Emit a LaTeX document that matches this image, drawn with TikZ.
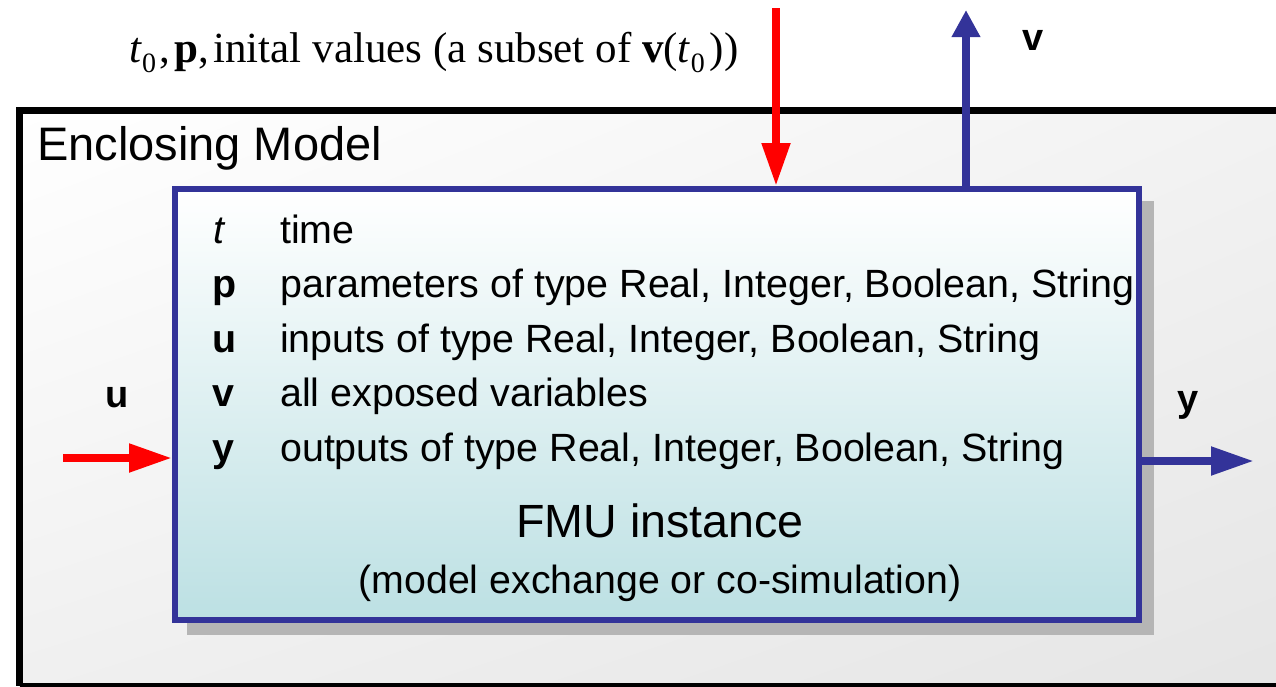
\documentclass[tikz,border=0pt]{standalone}
\usepackage{fontspec}
\setmainfont{Liberation Sans}
\newfontfamily\timesf{Liberation Serif}
\usetikzlibrary{arrows.meta,shadings}
\definecolor{fmublue}{RGB}{51,51,153}
\definecolor{fmucyan}{RGB}{188,224,227}
\definecolor{shadowgray}{RGB}{181,181,181}
\definecolor{arrowred}{RGB}{255,0,0}
\newcommand{\subzero}{\raisebox{-0.24em}{\fontsize{28}{32}\selectfont 0}}
\tikzset{
  fmubox/.style={draw=fmublue, line width=6pt, top color=white, bottom color=fmucyan, inner sep=0pt},
  redarrow/.style={draw=arrowred, line width=8pt, -{Triangle[length=43pt,width=27pt]}},
  bluearrow/.style={draw=fmublue, line width=8pt, -{Triangle[length=43pt,width=27pt]}},
  bluearrowshort/.style={draw=fmublue, line width=8pt, -{Triangle[length=27pt,width=27pt]}},
  rowlabel/.style={anchor=base west, inner sep=0pt, font=\fontsize{39.4}{47}\selectfont},
  rowtext/.style={anchor=base west, inner sep=0pt, font=\fontsize{39.4}{47}\selectfont},
  portlabel/.style={inner sep=0pt, font=\fontsize{38}{46}\selectfont\bfseries},
}
\begin{document}
\begin{tikzpicture}[x=1pt, y=-1pt]
\useasboundingbox (0,0) rectangle (1276,686);
% enclosing model background
\shade[upper left=white, upper right=black!5, lower left=black!6, lower right=black!10] (19,110) rectangle (1276,686);
\draw[line width=7pt] (1276,110.5) -- (19.5,110.5) -- (19.5,686) ;
\draw[line width=4pt] (19.5,684.5) -- (1276,684.5);
\node[anchor=base west, inner sep=0pt, font=\fontsize{47}{55}\selectfont] (encl) at (37,160) {Enclosing Model};
% shadow
\fill[shadowgray] (187,201) rectangle (1154,635);
% FMU box
\node[fmubox, minimum width=964pt, minimum height=431pt] (fmu) at (657,404.5) {};
% rows
\node[rowlabel] (lt) at (213,243) {\itshape t};
\node[rowlabel] (lp) at (212,297.5) {\bfseries p};
\node[rowlabel] (lu) at (212,352) {\bfseries u};
\node[rowlabel] (lv) at (212,406.5) {\bfseries v};
\node[rowlabel] (ly) at (212,461) {\bfseries y};
\node[rowtext] (rt) at (280,243) {time};
\node[rowtext] (rp) at (280,297.5) {parameters of type Real, Integer, Boolean, String};
\node[rowtext] (ru) at (280,352) {inputs of type Real, Integer, Boolean, String};
\node[rowtext] (rv) at (280,406.5) {all exposed variables};
\node[rowtext] (ry) at (280,461) {outputs of type Real, Integer, Boolean, String};
\node[anchor=base, inner sep=0pt, font=\fontsize{46.6}{54}\selectfont] (fmuname) at (660,537) {FMU instance};
\node[anchor=base, inner sep=0pt, font=\fontsize{39.3}{47}\selectfont] (fmukind) at (660,593) {(model exchange or co-simulation)};
% top formula
\node[anchor=base west, inner sep=0pt, font=\timesf\fontsize{43}{51}\selectfont] (init) at (129,62)
  {\textit{t}\subzero\hspace{3pt},\hspace{5pt}\textbf{p},\hspace{4pt}inital values (a subset of \textbf{v}(\textit{t}\subzero\hspace{5pt}))};
% connectors
\coordinate (inTop) at (776,8);
\coordinate (vOut) at (966,10);
\coordinate (uIn) at (63,458);
\coordinate (yOut) at (1254,461);
\draw[redarrow] (inTop) -- (inTop |- fmu.north);
\draw[bluearrowshort] (vOut |- fmu.north) -- (vOut);
\draw[redarrow] (uIn) -- (uIn -| fmu.west);
\draw[bluearrow] (fmu.east |- yOut) -- (yOut);
% port labels
\node[portlabel] (vlab) at (1033,40) {v};
\node[portlabel] (ulab) at (117,398) {u};
\node[portlabel] (ylab) at (1188,405) {y};
\end{tikzpicture}
\end{document}
